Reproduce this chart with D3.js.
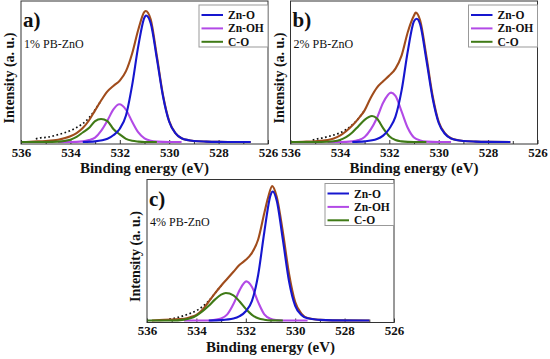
<!DOCTYPE html>
<html>
<head>
<meta charset="utf-8">
<script src="https://cdn.jsdelivr.net/npm/d3@7"></script>
<style>
  body { margin: 0; background: #fff; }
  svg { display: block; }
  text { font-family: "Liberation Serif", "Times New Roman", "DejaVu Serif", serif; fill: #111; }
</style>
</head>
<body>
<div id="chart"></div>
<script>
// O 1s XPS fits of PB-ZnO samples ([eV, intensity a.u.])

const xTicks = [536, 535, 534, 533, 532, 531, 530, 529, 528, 527, 526];
const xLabels = [536, 534, 532, 530, 528, 526];
const seriesNames = ["Zn-O", "Zn-OH", "C-O"];

// panel a) 1% PB-ZnO
const aRaw = [[535.4,2.5],[535.2,3.3],[535,3.6],[534.75,4.5],[534.5,5.8],[534.25,7.2],[534,9],[533.75,11.5],[533.5,14.5],[533.25,19],[533,25.5],[532.75,33]];
const aEnv = [[535.8,0],[535.5,0.3],[535,0.8],[534.5,1.8],[534,4.5],[533.75,7],[533.5,11],[533.25,17],[533,25],[532.75,33],[532.5,40],[532.25,44.5],[532,48.5],[531.75,56],[531.5,70],[531.25,89],[531,103],[530.95,103.6],[530.75,97],[530.5,68],[530.25,37],[530,16.5],[529.75,7],[529.5,3],[529,0.8],[528.5,0.3],[528,0.1],[527,0],[526.7,0]];
const aZnO = [[533.5,0],[533,0.5],[532.5,2.5],[532.25,5.5],[532,10.5],[531.75,21],[531.5,45],[531.25,76],[531,98.5],[530.94,100],[530.75,94],[530.5,66],[530.25,36],[530,16],[529.75,7],[529.5,3],[529,0.8],[528.5,0.3],[528,0.1],[527,0],[526.7,0]];
const aZnOH = [[534.5,0],[534,0],[533.5,0.5],[533.25,1.5],[533,3.5],[532.75,9],[532.5,17],[532.25,26],[532.02,29.8],[531.75,25.5],[531.5,16],[531.25,7.5],[531,2.8],[530.75,1],[530.5,0.3],[530,0],[529.5,0]];
const aCO = [[536,0],[535,0],[534.5,0.3],[534.25,0.8],[534,1.8],[533.75,4],[533.5,7.5],[533.25,11],[533,16.5],[532.76,18.2],[532.5,16.5],[532.25,10],[532,6],[531.75,2.5],[531.5,0.9],[531.25,0.3],[531,0],[530.5,0]];

// panel b) 2% PB-ZnO
const bRaw = [[535.1,1.5],[534.9,2.5],[534.75,3],[534.5,4.2],[534.25,5.5],[534,7.2],[533.75,9.8],[533.5,13.5],[533.25,18.5],[533,25]];
const bEnv = [[535.8,0],[535.5,0.2],[535,0.6],[534.5,1.6],[534.25,2.8],[534,5],[533.75,8.5],[533.5,13],[533.25,18.5],[533,25],[532.75,35],[532.5,43],[532.25,48],[532,52.5],[531.75,58],[531.5,68.5],[531.25,87],[531,100],[530.93,102.3],[530.75,96],[530.5,68],[530.25,37],[530,16],[529.75,7],[529.5,3],[529,0.8],[528.5,0.3],[528,0.1],[527.1,0]];
const bZnO = [[533.5,0],[533,0.5],[532.5,2.3],[532.25,5],[532,10.5],[531.75,20],[531.5,41],[531.25,72],[531,95.5],[530.89,97.5],[530.75,93],[530.5,65],[530.25,35],[530,15],[529.75,6.5],[529.5,2.8],[529,0.8],[528.5,0.3],[528,0.1],[527.1,0]];
const bZnOH = [[534.5,0],[534,0],[533.5,0.5],[533.25,1.5],[533,4],[532.75,10],[532.5,19],[532.25,31],[531.93,39],[531.75,36.5],[531.5,24],[531.25,11],[531,3.5],[530.75,1.2],[530.5,0.3],[530,0],[529.5,0]];
const bCO = [[536,0],[535,0],[534.5,0.2],[534.25,0.6],[534,1.6],[533.75,3.8],[533.5,7.5],[533.25,12.5],[533,17.5],[532.7,20.5],[532.5,18.5],[532.25,11],[532,4.5],[531.75,1.5],[531.5,0.5],[531.25,0.1],[531,0],[530.5,0]];

// panel c) 4% PB-ZnO
const cRaw = [[535.1,1],[534.75,2.4],[534.5,3.9],[534.25,5.6],[534,7.8],[533.75,11],[533.5,15.5],[533.25,21.5],[533,27.5]];
const cEnv = [[535.8,0],[535.5,0.3],[535,0.8],[534.5,1.4],[534.25,2.6],[534,4.5],[533.75,8.5],[533.5,15],[533.25,21.5],[533,27.5],[532.75,33],[532.5,38.5],[532.25,44],[532,48],[531.75,53.5],[531.5,64],[531.25,85],[531.1,97],[530.93,106.3],[530.75,98],[530.5,70],[530.25,37],[530,14.5],[529.75,5.5],[529.5,2],[529,0.5],[528.5,0.1],[527,0]];
const cZnO = [[533.5,0],[533,0.3],[532.5,1.5],[532.25,3.4],[532,7.3],[531.75,15.5],[531.5,36],[531.25,70],[531,99],[530.91,102],[530.75,95],[530.5,64],[530.25,31],[530,11.5],[529.75,4.4],[529.5,1.7],[529,0.5],[528.5,0.1],[527,0]];
const cZnOH = [[534.5,0],[533.5,0],[533.25,0.5],[533,1.5],[532.75,4.8],[532.5,13],[532.25,24],[531.98,30.9],[531.75,26.5],[531.5,14.5],[531.25,4.8],[531,1.3],[530.75,0.3],[530.5,0],[529.5,0]];
const cCO = [[536,0],[535,0],[534.5,0.7],[534.25,1.7],[534,3.9],[533.75,7.3],[533.5,11.6],[533.25,16.5],[533,20.4],[532.81,21.7],[532.5,19.9],[532.25,15],[532,9.2],[531.75,4.4],[531.5,1.7],[531.25,0.6],[531,0.1],[530.5,0]];

const colors = { zno: "#1616cf", znoh: "#b24ae6", co: "#3f7a16", env: "#a04c1c" };
const serif = "'Liberation Serif', 'Times New Roman', serif";

let width = 550, height = 359;
const pw = 247, ph = 143;

let svg = d3.select("#chart")
    .append("svg")
    .attr("width", width)
    .attr("height", height)
    .attr("font-family", serif);

let x = d3.scaleLinear().domain([536, 526]).range([0, pw]);
let y = d3.scaleLinear().domain([-1.6, 111.5]).range([ph, 0]);

let line = d3.line()
    .x(d => x(d[0]))
    .y(d => y(d[1]))
    .curve(d3.curveMonotoneX);

const panels = [
    { tx: 21, ty: 1, tag: "a)", sample: "1% PB-ZnO", raw: aRaw, env: aEnv, zno: aZnO, znoh: aZnOH, co: aCO },
    { tx: 290.5, ty: 1, tag: "b)", sample: "2% PB-ZnO", raw: bRaw, env: bEnv, zno: bZnO, znoh: bZnOH, co: bCO },
    { tx: 147, ty: 179.5, tag: "c)", sample: "4% PB-ZnO", raw: cRaw, env: cEnv, zno: cZnO, znoh: cZnOH, co: cCO }
];

panels.forEach(p => drawPanel(p));

function drawPanel(p) {
    let g = svg.append("g")
        .attr("transform", "translate(" + p.tx + "," + p.ty + ")");

    // x axis, ticks pointing inward
    let ax = g.append("g")
        .attr("transform", "translate(0," + ph + ")")
        .call(d3.axisBottom(x)
            .tickValues(xTicks)
            .tickSize(-4)
            .tickPadding(3.5)
            .tickFormat(d => xLabels.includes(d) ? d : ""))
        .attr("font-family", serif)
        .attr("font-size", 13);
    ax.select(".domain").remove();
    ax.selectAll(".tick line").attr("stroke", "#333").attr("stroke-width", 1)
        .attr("y2", d => xLabels.includes(d) ? -4 : -3);
    ax.selectAll(".tick text")
        .style("font-family", serif)
        .style("font-weight", "bold")
        .style("font-size", "13px")
        .attr("fill", "#111");

    // curves
    g.append("path").datum(p.raw)
        .attr("d", line).attr("fill", "none")
        .attr("stroke", "#111").attr("stroke-width", 1.7)
        .attr("stroke-dasharray", "1.7,2.5");
    g.append("path").datum(p.env)
        .attr("d", line).attr("fill", "none")
        .attr("stroke", colors.env).attr("stroke-width", 2.1);
    g.append("path").datum(p.znoh)
        .attr("d", line).attr("fill", "none")
        .attr("stroke", colors.znoh).attr("stroke-width", 2.1);
    g.append("path").datum(p.co)
        .attr("d", line).attr("fill", "none")
        .attr("stroke", colors.co).attr("stroke-width", 2.1);
    g.append("path").datum(p.zno)
        .attr("d", line).attr("fill", "none")
        .attr("stroke", colors.zno).attr("stroke-width", 2.1);

    // frame
    g.append("rect")
        .attr("width", pw).attr("height", ph)
        .attr("fill", "none").attr("stroke", "#333").attr("stroke-width", 1);

    // labels
    g.append("text")
        .attr("x", 2).attr("y", 26)
        .style("font-size", "21px").style("font-weight", "bold")
        .text(p.tag);
    g.append("text")
        .attr("x", 3).attr("y", 46.5)
        .style("font-size", "12px")
        .text(p.sample);
    g.append("text")
        .attr("text-anchor", "middle")
        .attr("x", pw / 2).attr("y", ph + 29)
        .style("font-size", "15px").style("font-weight", "bold")
        .text("Binding energy (eV)");
    g.append("text")
        .attr("text-anchor", "middle")
        .attr("transform", "translate(-7," + 77 + ")rotate(-90)")
        .style("font-size", "14px").style("font-weight", "bold")
        .text("Intensity (a. u.)");

    // legend
    let lg = g.append("g").attr("transform", "translate(" + (pw - 69) + ",4)");
    lg.append("rect")
        .attr("width", 69).attr("height", 42)
        .attr("fill", "#fff").attr("stroke", "#999").attr("stroke-width", 1);
    const legCols = [colors.zno, colors.znoh, colors.co];
    seriesNames.forEach((name, i) => {
        let ly = 10 + i * 13.4;
        lg.append("line")
            .attr("x1", 2.5).attr("x2", 24)
            .attr("y1", ly).attr("y2", ly)
            .attr("stroke", legCols[i]).attr("stroke-width", 2);
        lg.append("text")
            .attr("x", 29).attr("y", ly).attr("dy", "0.35em")
            .style("font-size", "11.5px").style("font-weight", "bold")
            .text(name);
    });
}
</script>
</body>
</html>
